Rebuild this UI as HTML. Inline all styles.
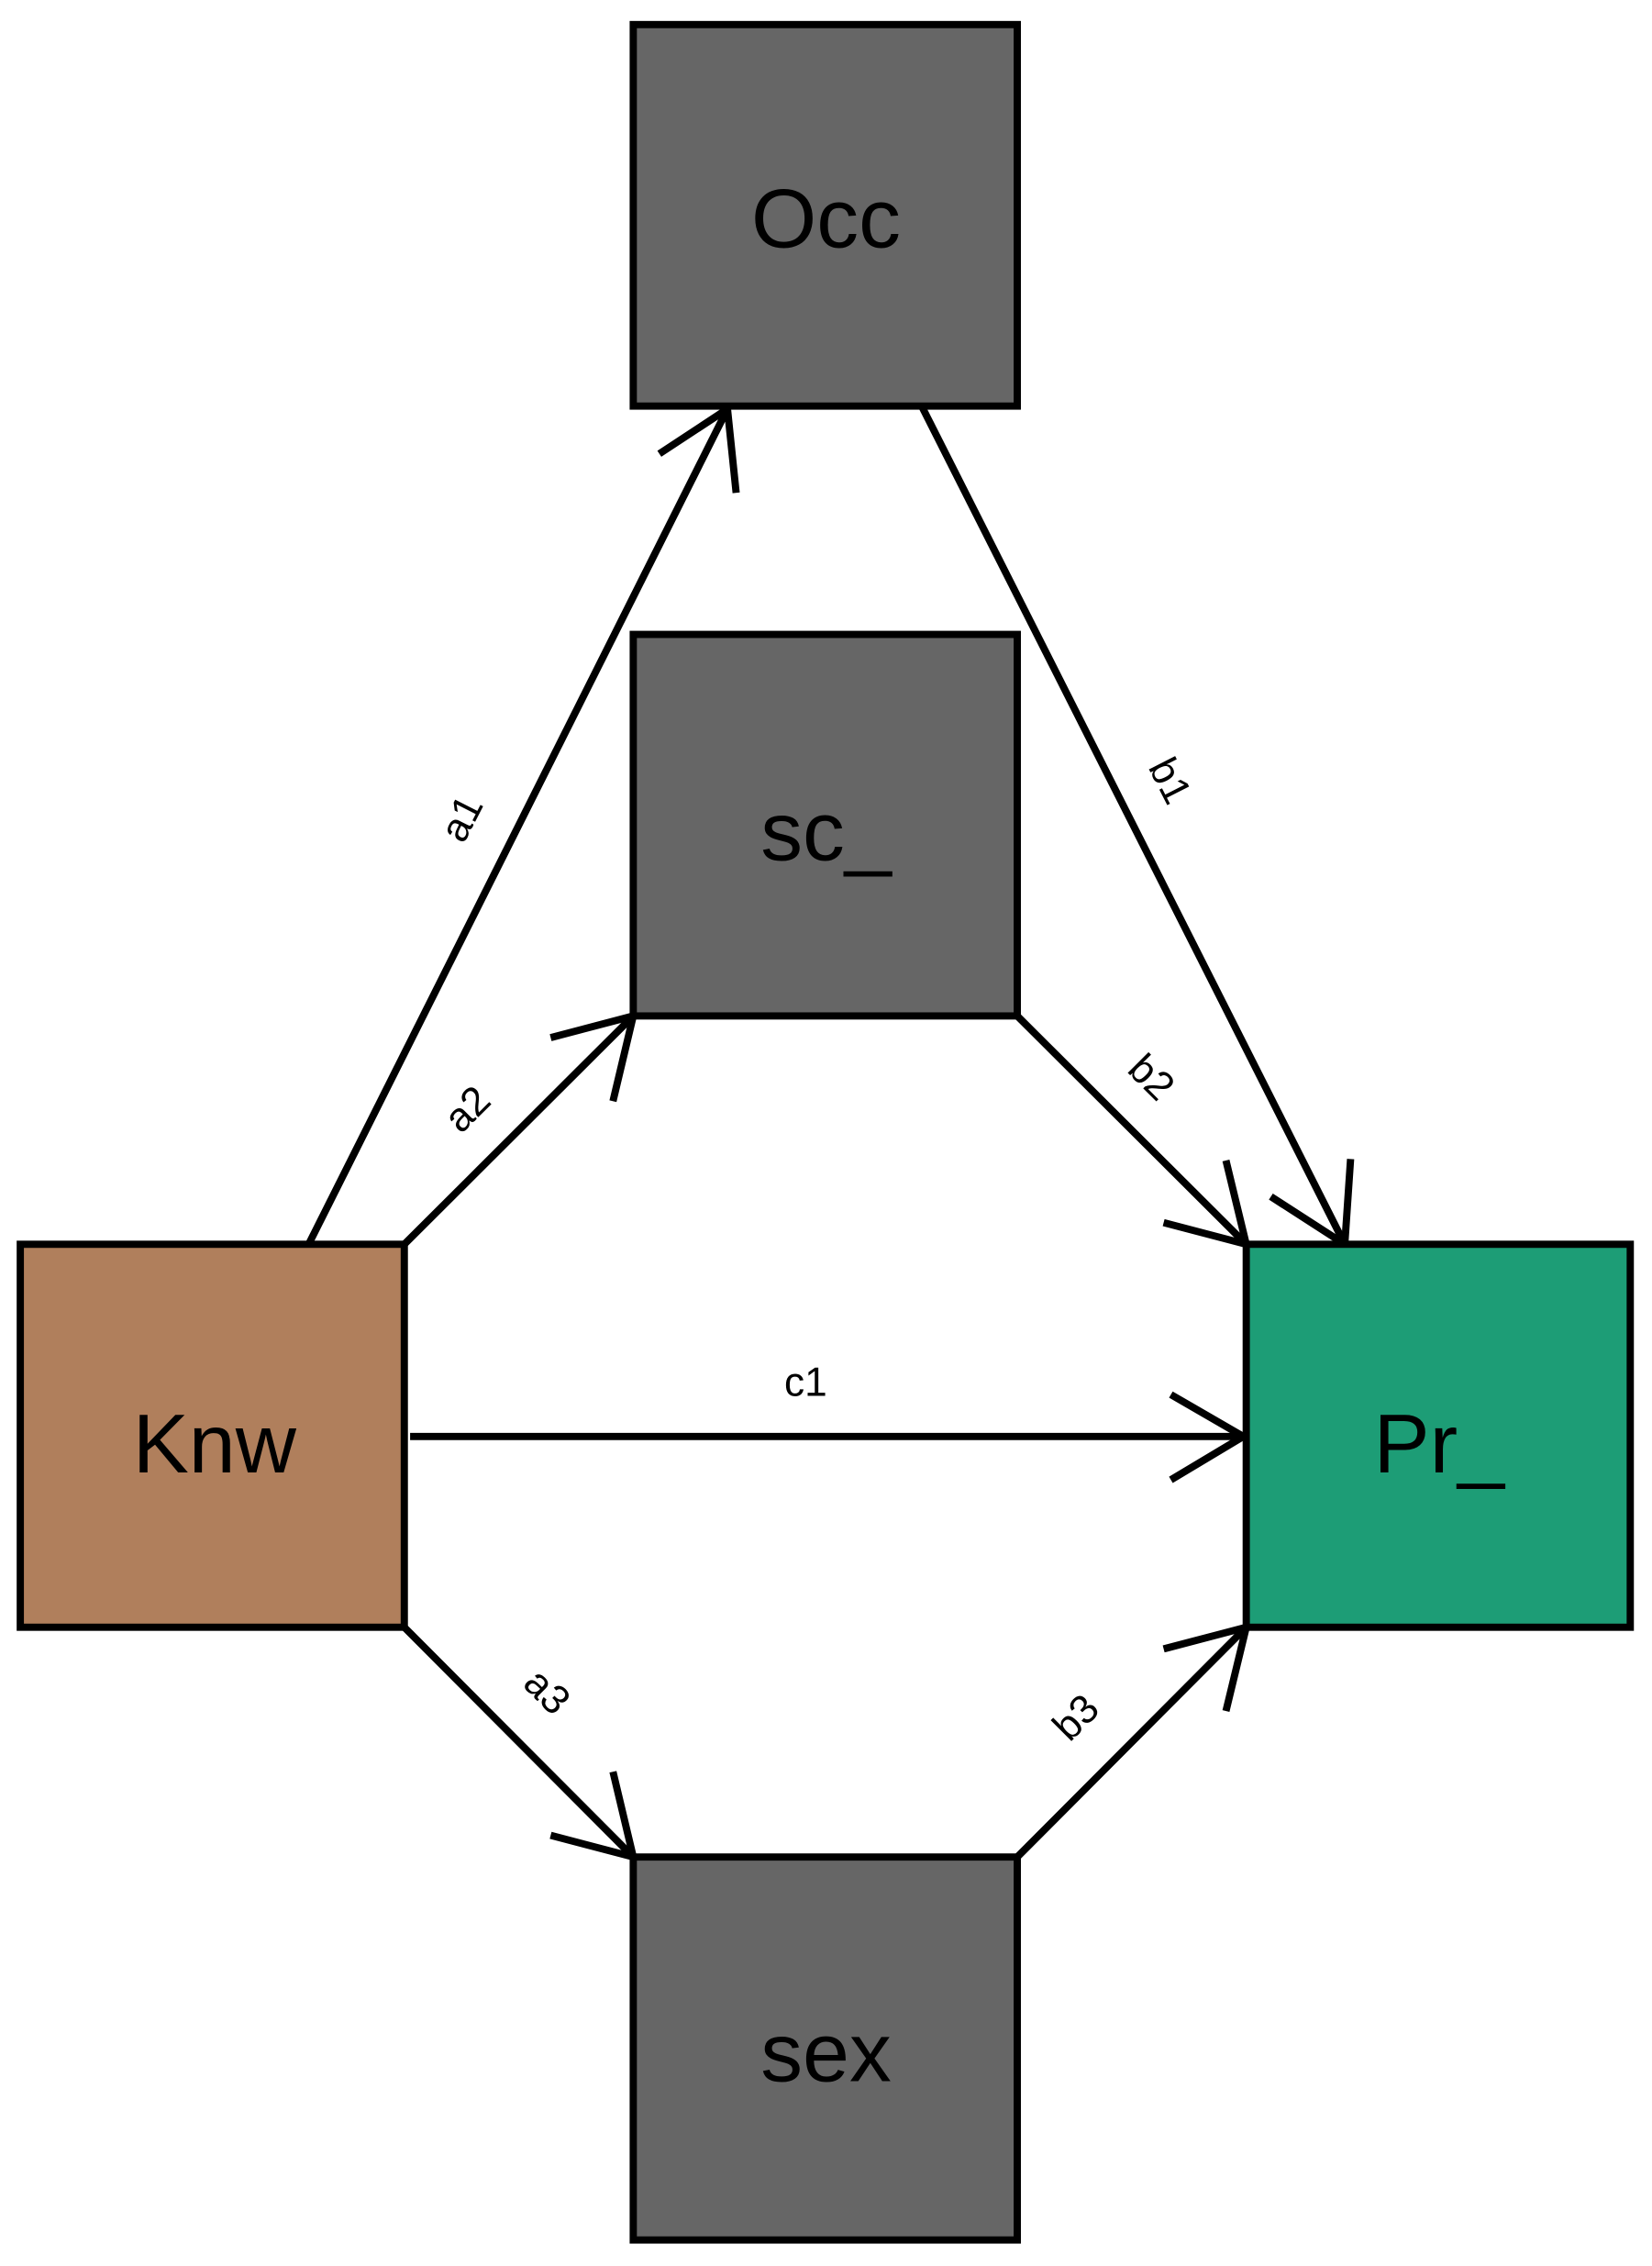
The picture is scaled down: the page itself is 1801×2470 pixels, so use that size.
<!DOCTYPE html>
<html><head><meta charset="utf-8"><style>html,body{margin:0;padding:0;background:#fff}svg{display:block}</style></head>
<body>
<svg width="1801" height="2470" viewBox="0 0 1140 1568" preserveAspectRatio="none" xmlns="http://www.w3.org/2000/svg">
<g stroke="#000" stroke-width="5" fill="none">
<line x1="213" y1="861" x2="502" y2="283"/>
<polyline points="455,314 502,283 508,341"/>
<line x1="636" y1="281" x2="928" y2="861"/>
<polyline points="877,828 928,861 932,802"/>
<line x1="279" y1="861" x2="437" y2="703"/>
<polyline points="380,718 437,703 423,762"/>
<line x1="702" y1="703" x2="860" y2="861"/>
<polyline points="803,846 860,861 846,803"/>
<line x1="283" y1="994" x2="858" y2="994"/>
<polyline points="808,965 858,994 808,1024"/>
<line x1="279" y1="1126" x2="437" y2="1285"/>
<polyline points="380,1270 437,1285 423,1226"/>
<line x1="702" y1="1285" x2="860" y2="1126"/>
<polyline points="803,1141 860,1126 846,1184"/>
</g>
<g stroke="#000" stroke-width="5">
<rect x="437" y="17" width="265" height="264" fill="#666"/>
<rect x="437" y="439" width="265" height="264" fill="#666"/>
<rect x="14" y="861" width="265" height="265" fill="#b07f5c"/>
<rect x="860" y="861" width="265" height="265" fill="#1d9d76"/>
<rect x="437" y="1285" width="265" height="265" fill="#666"/>
</g>
<g font-family="Liberation Sans, sans-serif" font-size="58" text-anchor="middle" fill="#000">
<text x="570" y="171">Occ</text>
<text x="570" y="595">sc_</text>
<text x="148" y="1019">Knw</text>
<text x="993" y="1019">Pr_</text>
<text x="570" y="1440">sex</text>
</g>
<g font-family="Liberation Sans, sans-serif" font-size="28" text-anchor="middle" fill="#000">
<text transform="translate(318,566) rotate(-63)" y="10">a1</text>
<text transform="translate(808,540) rotate(63)" y="10">b1</text>
<text transform="translate(322,767) rotate(-45)" y="10">a2</text>
<text transform="translate(795,745) rotate(45)" y="10">b2</text>
<text x="556" y="966">c1</text>
<text transform="translate(378,1170) rotate(45)" y="10">a3</text>
<text transform="translate(742,1188) rotate(-45)" y="10">b3</text>
</g>
</svg>
</body></html>
